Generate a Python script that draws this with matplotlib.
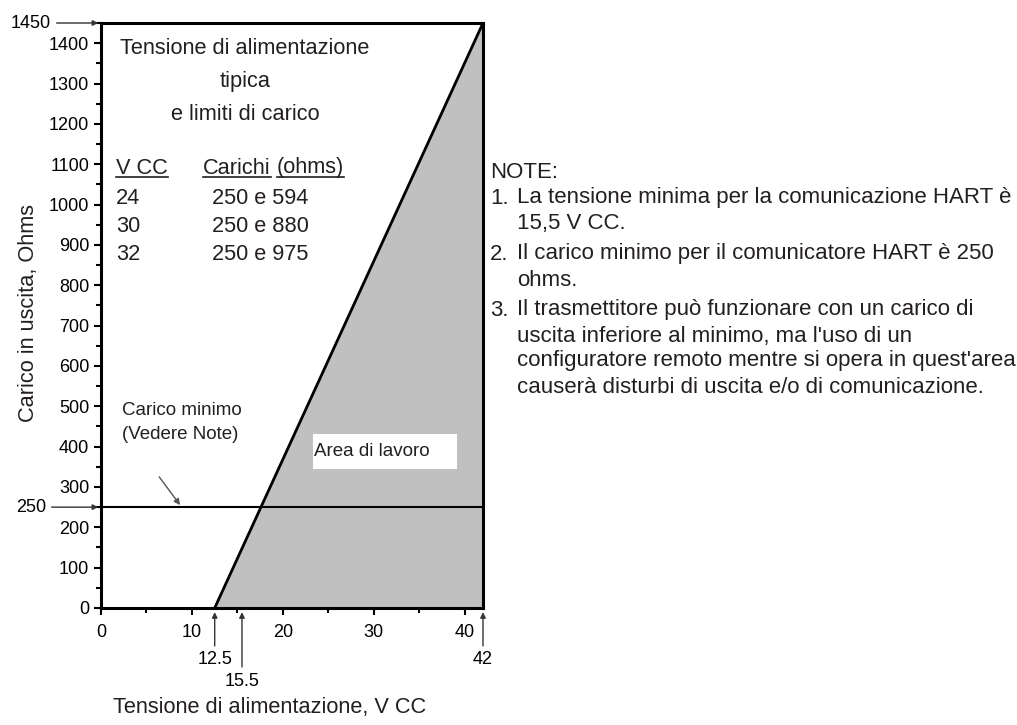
import matplotlib
matplotlib.use('Agg')
import matplotlib.pyplot as plt
from matplotlib.patches import Rectangle
from matplotlib.lines import Line2D

plt.rcParams['font.family'] = ['Liberation Sans', 'DejaVu Sans']

# ---------------- data ----------------
v_start = 12.5          # V where load line begins (0 ohm)
v_hart = 15.5           # minimum HART voltage
v_max = 42              # maximum supply voltage
r_max = 1450            # max load at v_max
r_min = 250             # minimum load for HART
x_ticks = [0, 10, 20, 30, 40]
x_minor = [5, 15, 25, 35]
y_ticks = list(range(0, 1401, 100))
y_minor = list(range(50, 1451, 100))
title_lines = ['Tensione di alimentazione', 'tipica', 'e limiti di carico']
table_head = ['V CC', 'Carichi', '(ohms)']
table_vcc = ['24', '30', '32']
table_loads = ['250 e 594', '250 e 880', '250 e 975']
notes_title = 'NOTE:'
notes_num = ['1.', '', '2.', '', '3.', '', '', '']
notes_text = ['La tensione minima per la comunicazione HART è',
              '15,5 V CC.',
              'Il carico minimo per il comunicatore HART è 250',
              'ohms.',
              'Il trasmettitore può funzionare con un carico di',
              "uscita inferiore al minimo, ma l'uso di un",
              "configuratore remoto mentre si opera in quest'area",
              'causerà disturbi di uscita e/o di comunicazione.']

W, H = 1017, 725
TXT = '#231f20'
FS = 15.7
FSN = 16
FST = 13

fig = plt.figure(figsize=(W / 100, H / 100), dpi=100)
fig.patch.set_facecolor('white')

def fx(x):
    return x / W

def fy(y):
    return 1 - y / H

ax = fig.add_axes([fx(101), fy(608), 382 / W, 585 / H])
ax.set_xlim(0, v_max)
ax.set_ylim(0, r_max)

# working area
ax.fill([v_start, v_max, v_max], [0, r_max, 0], color='#c0c0c0', zorder=1, lw=0)
ax.plot([v_start, v_max], [0, r_max], color='black', lw=2, zorder=3, solid_capstyle='butt')
ax.axhline(r_min, color='black', lw=1.5, zorder=3)

for s in ax.spines.values():
    s.set_linewidth(2.2)
    s.set_zorder(5)

ax.set_xticks(x_ticks)
ax.set_xticks(x_minor, minor=True)
ax.set_yticks(y_ticks)
ax.set_yticks(y_minor, minor=True)
ax.tick_params(which='major', length=5, width=1.5, direction='out', labelsize=FST,
               colors='black')
ax.tick_params(which='minor', length=3.8, width=1.5, direction='out')
ax.tick_params(axis='x', which='major', pad=6.5)
ax.tick_params(axis='y', which='major', pad=3.5)
ax.set_yticklabels([str(v) for v in y_ticks])

arrow = dict(arrowstyle='-|>', color='#333333', lw=1, mutation_scale=8,
             shrinkA=2, shrinkB=2)

# left side arrows for 1450 and 250
for val in (r_max, r_min):
    ax.annotate(str(val), xy=(0, val), xytext=(-70, 0), textcoords='offset pixels',
                ha='center', va='center', fontsize=FST, color='black',
                arrowprops=arrow, annotation_clip=False)

# bottom arrows
for val, off in ((v_start, -52), (v_hart, -73), (v_max, -52)):
    lab = ('%g' % val)
    ax.annotate(lab, xy=(val, 0), xytext=(0, off), textcoords='offset pixels',
                ha='center', va='center', fontsize=FST, color='black',
                arrowprops=dict(arrow, shrinkB=3), annotation_clip=False)

# title block
for t, y in zip(title_lines, [48, 82, 115]):
    fig.text(fx(245), fy(y), t, ha='center', va='center', fontsize=FS, color=TXT)

# table
fig.canvas.draw()
renderer = fig.canvas.get_renderer()

def underlined(x, y, s):
    t = fig.text(fx(x), fy(y), s, ha='left', va='center', fontsize=FS, color=TXT)
    bb = t.get_window_extent(renderer)
    yl = bb.y0 + 2
    fig.add_artist(Line2D([bb.x0 / W, bb.x1 / W], [yl / H, yl / H],
                          transform=fig.transFigure, color=TXT, lw=1.2))
    return bb

underlined(116, 168, table_head[0])
bb = underlined(203, 168, table_head[1])
underlined(bb.x1 + 6, 168, table_head[2])
for v, l, y in zip(table_vcc, table_loads, [198, 226, 254]):
    fig.text(fx(116), fy(y), v, ha='left', va='center', fontsize=FS, color=TXT)
    fig.text(fx(212), fy(y), l, ha='left', va='center', fontsize=FS, color=TXT)

# minimum load label and arrow
fig.text(fx(122), fy(411), 'Carico minimo', ha='left', va='center', fontsize=13.5, color=TXT)
fig.text(fx(122), fy(434), '(Vedere Note)', ha='left', va='center', fontsize=13.5, color=TXT)
ax.annotate('', xy=(8.7, r_min + 5), xytext=(6.4, r_min + 75),
            arrowprops=dict(arrowstyle='-|>', color='#555555', lw=1, mutation_scale=9,
                            shrinkA=0, shrinkB=0), zorder=4)

# working area label
ax.add_patch(Rectangle((0.555, 0.2376), 0.377, 0.0598, transform=ax.transAxes,
                       facecolor='white', edgecolor='none', zorder=4))
ax.text(0.558, 0.2676, 'Area di lavoro', transform=ax.transAxes, ha='left', va='center',
        fontsize=13.5, color=TXT, zorder=5)

# axis labels
fig.text(fx(29), fy(313), 'Carico in uscita, Ohms', rotation=90, ha='center', va='center',
         fontsize=FS, color=TXT)
fig.text(fx(113), fy(707), 'Tensione di alimentazione, V CC', ha='left', va='center',
         fontsize=FS, color=TXT)

# notes
fig.text(fx(490), fy(172), notes_title, ha='left', va='center', fontsize=FSN, color=TXT)
for n, t, y in zip(notes_num, notes_text, [198, 224, 254, 281, 310, 336, 361, 387]):
    if n:
        fig.text(fx(490), fy(y), n, ha='left', va='center', fontsize=FSN, color=TXT)
    fig.text(fx(517), fy(y), t, ha='left', va='center', fontsize=FSN, color=TXT)

fig.savefig('out.png', dpi=100, facecolor='white')
